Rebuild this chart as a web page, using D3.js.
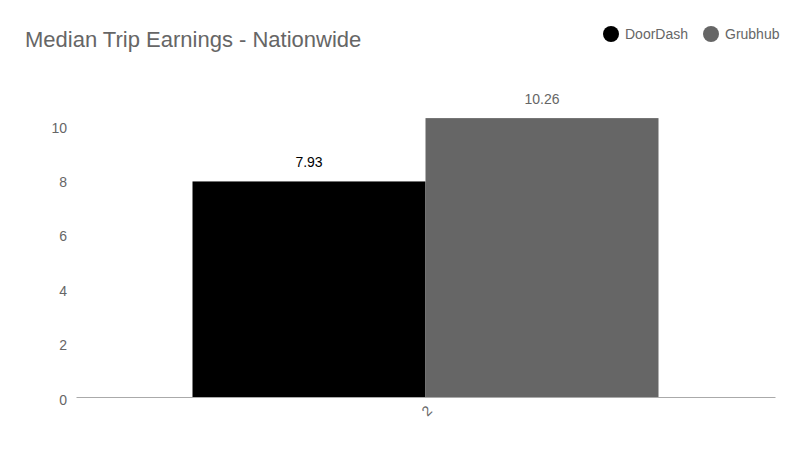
<!DOCTYPE html>
<html>
<head>
<meta charset="utf-8">
<script src="https://cdn.jsdelivr.net/npm/d3@7"></script>
<style>
  body { margin: 0; background: #fff; }
  text { font-family: "Liberation Sans", Arial, sans-serif; }
</style>
</head>
<body>
<div id="chart"></div>
<script>
// chart data
const categories = ["2"];
const seriesNames = ["DoorDash", "Grubhub"];
const seriesColors = ["#000000", "#666666"];
const labelColors = ["#000000", "#666666"];
const doorDashValues = [7.93];
const grubhubValues = [10.26];
const yTicks = [0, 2, 4, 6, 8, 10];

const W = 800, H = 450;
const margin = { top: 98, right: 25, bottom: 53, left: 76 };
const width = W - margin.left - margin.right;
const height = H - margin.top - margin.bottom;

const svg = d3.select("#chart").append("svg")
    .attr("width", W)
    .attr("height", H);

// title
svg.append("text")
    .attr("x", 25)
    .attr("y", 47)
    .attr("fill", "#666")
    .style("font-size", "22px")
    .text("Median Trip Earnings - Nationwide");

// legend
const legendX = [611, 711];
seriesNames.forEach((name, i) => {
    svg.append("circle")
        .attr("cx", legendX[i])
        .attr("cy", 34)
        .attr("r", 8)
        .attr("fill", seriesColors[i]);
    svg.append("text")
        .attr("x", legendX[i] + 14)
        .attr("y", 39)
        .attr("fill", "#666")
        .style("font-size", "14px")
        .text(name);
});

const g = svg.append("g")
    .attr("transform", `translate(${margin.left},${margin.top})`);

const x0 = d3.scaleBand()
    .domain(categories)
    .range([0, width])
    .paddingInner(0)
    .paddingOuter(0.25);

const x1 = d3.scaleBand()
    .domain(seriesNames)
    .range([0, x0.bandwidth()])
    .padding(0);

const y = d3.scaleLinear()
    .domain([0, 11])
    .range([height, 0]);

const rows = categories.map((c, i) => ({
    cat: c,
    vals: [doorDashValues[i], grubhubValues[i]]
}));

const groups = g.selectAll(".grp")
    .data(rows)
    .enter().append("g")
    .attr("transform", d => `translate(${x0(d.cat)},0)`);

groups.selectAll("rect")
    .data(d => d.vals.map((v, i) => ({ name: seriesNames[i], v, i })))
    .enter().append("rect")
    .attr("x", d => x1(d.name))
    .attr("y", d => y(d.v))
    .attr("width", x1.bandwidth())
    .attr("height", d => height - y(d.v))
    .attr("fill", d => seriesColors[d.i]);

groups.selectAll(".val")
    .data(d => d.vals.map((v, i) => ({ name: seriesNames[i], v, i })))
    .enter().append("text")
    .attr("x", d => x1(d.name) + x1.bandwidth() / 2)
    .attr("y", d => y(d.v) - 14)
    .attr("text-anchor", "middle")
    .attr("fill", d => labelColors[d.i])
    .style("font-size", "14px")
    .text(d => d.v.toFixed(2));

// y axis (labels only)
const yAxis = g.append("g")
    .call(d3.axisLeft(y).tickValues(yTicks).tickSize(0).tickPadding(9));
yAxis.select(".domain").remove();
yAxis.selectAll("text")
    .attr("fill", "#666")
    .attr("dy", "0.5em")
    .style("font-size", "14px")
    .style("font-family", "'Liberation Sans', Arial, sans-serif");

// x axis
const xAxis = g.append("g")
    .attr("transform", `translate(0,${height})`)
    .call(d3.axisBottom(x0).tickSize(0).tickPadding(10));
xAxis.select(".domain").attr("stroke", "#aaa");
xAxis.selectAll("text")
    .attr("fill", "#666")
    .style("font-size", "14px")
    .style("font-family", "'Liberation Sans', Arial, sans-serif")
    .attr("text-anchor", "end")
    .attr("dy", "0.35em")
    .attr("transform", "translate(-3,4) rotate(-45)");
</script>
</body>
</html>
